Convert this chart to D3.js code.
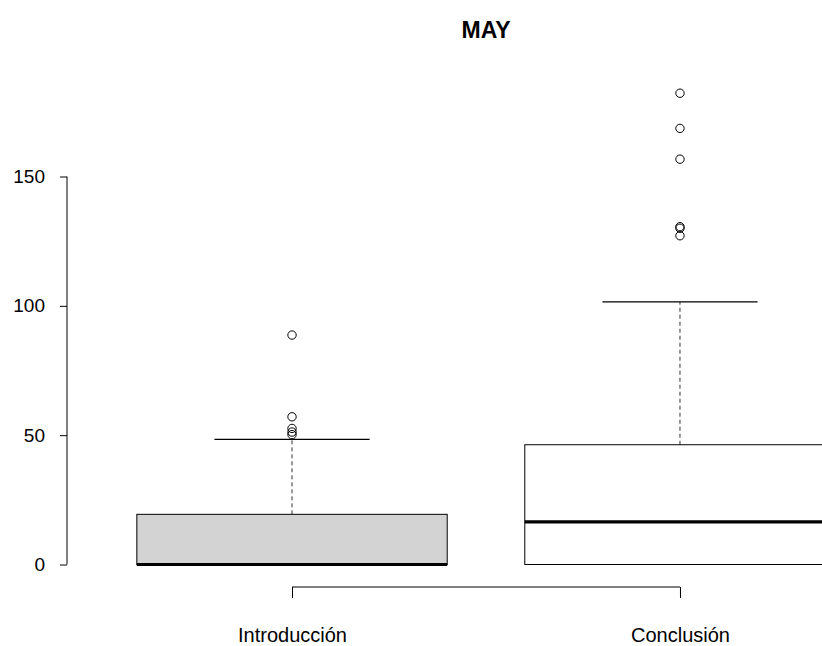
<!DOCTYPE html>
<html>
<head>
<meta charset="utf-8">
<script src="https://cdn.jsdelivr.net/npm/d3@7"></script>
<style>
html,body{margin:0;padding:0;background:#fff;}
text{font-family:"Liberation Sans",Arial,Helvetica,sans-serif;}
</style>
</head>
<body>
<svg id="chart" width="822" height="646"></svg>
<script>
const title = "MAY";
const categories = ["Introducción", "Conclusión"];
const boxFill = ["#d3d3d3", "#ffffff"];
const whiskerLow = [0, 0];
const q1 = [0, 0];
const median = [0, 16.5];
const q3 = [19.4, 46.3];
const whiskerHigh = [48.4, 101.5];
const outliers = [
  [88.7, 57.1, 52.6, 51.2, 50.2],
  [182.2, 168.6, 156.7, 130.6, 130.0, 127.1]
];
const yTicks = [0, 50, 100, 150];

const svg = d3.select("#chart");
const x = d3.scaleLinear().domain([0.42, 2.58]).range([67, 905]);
const y = d3.scaleLinear().domain([0, 150]).range([564.5, 176.5]);
const boxHalf = 0.4, capHalf = 0.2;

// Title
svg.append("text").attr("x", x(1.5)).attr("y", 38)
  .attr("text-anchor", "middle").attr("font-weight", "bold")
  .attr("font-size", 23).text(title);

// Boxes
categories.forEach((c, i) => {
  const cx = i + 1;
  const g = svg.append("g");
  g.append("line").attr("x1", x(cx)).attr("x2", x(cx))
    .attr("y1", y(q3[i])).attr("y2", y(whiskerHigh[i]))
    .attr("stroke", "#333").attr("stroke-dasharray", "4,3").attr("stroke-width", 1);
  g.append("line").attr("x1", x(cx)).attr("x2", x(cx))
    .attr("y1", y(q1[i])).attr("y2", y(whiskerLow[i]))
    .attr("stroke", "#333").attr("stroke-dasharray", "4,3").attr("stroke-width", 1);
  [whiskerHigh[i], whiskerLow[i]].forEach(v => {
    g.append("line").attr("x1", x(cx - capHalf)).attr("x2", x(cx + capHalf))
      .attr("y1", y(v)).attr("y2", y(v)).attr("stroke", "#000").attr("stroke-width", 1.2);
  });
  g.append("rect").attr("x", x(cx - boxHalf)).attr("width", x(cx + boxHalf) - x(cx - boxHalf))
    .attr("y", y(q3[i])).attr("height", y(q1[i]) - y(q3[i]))
    .attr("fill", boxFill[i]).attr("stroke", "#000").attr("stroke-width", 1);
  g.append("line").attr("x1", x(cx - boxHalf)).attr("x2", x(cx + boxHalf))
    .attr("y1", y(median[i])).attr("y2", y(median[i]))
    .attr("stroke", "#000").attr("stroke-width", 3.2);
  g.selectAll("circle").data(outliers[i]).join("circle")
    .attr("cx", x(cx)).attr("cy", d => y(d)).attr("r", 4.2)
    .attr("fill", "none").attr("stroke", "#000").attr("stroke-width", 1);
});

// Y axis
const yAxis = d3.axisLeft(y).tickValues(yTicks).tickSize(7).tickPadding(15);
const ya = svg.append("g").attr("transform", "translate(67,0)").call(yAxis);
ya.select(".domain").attr("d", `M0,${y(0)}V${y(150)}`).attr("stroke", "#000");
ya.selectAll("text").attr("font-size", 19).attr("fill", "#000")
  .attr("font-family", "Liberation Sans,Arial,sans-serif");

// X axis
const xAxis = d3.axisBottom(x).tickValues([1, 2]).tickFormat((d) => categories[d - 1])
  .tickSize(11).tickPadding(30);
const xa = svg.append("g").attr("transform", "translate(0,587)").call(xAxis);
xa.select(".domain").attr("d", `M${x(1)},0H${x(2)}`).attr("stroke", "#000");
xa.selectAll("text").attr("font-size", 20).attr("fill", "#000")
  .attr("font-family", "Liberation Sans,Arial,sans-serif");
</script>
</body>
</html>
